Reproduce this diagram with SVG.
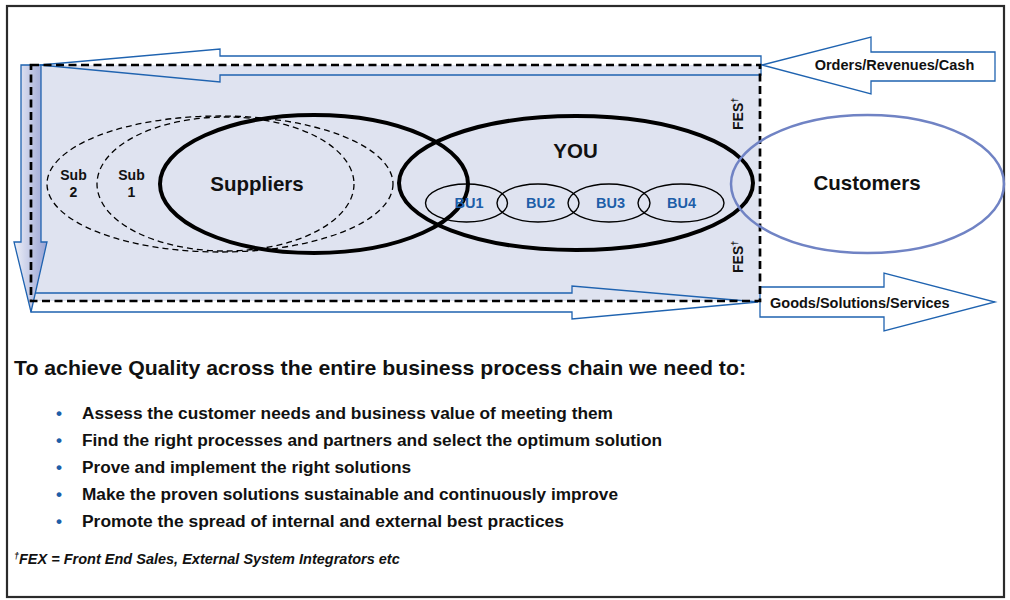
<svg xmlns="http://www.w3.org/2000/svg" width="1010" height="600" viewBox="0 0 1010 600">
<style>
text{font-family:"Liberation Sans",Arial,Helvetica,sans-serif;font-weight:bold;fill:#111}
.arr{fill:none;stroke:#1f63b0;stroke-width:1.3;stroke-linejoin:miter}
.arrw{fill:#fff;stroke:#1f63b0;stroke-width:1.3}
.big{font-size:20.5px;text-anchor:middle}
.sub{font-size:14px;text-anchor:middle}
.bu{font-size:14.5px;text-anchor:middle;fill:#1d5ea8}
.lbl{font-size:14.5px}
.fes{font-size:14px}
.bul{font-size:17.2px}
.dot{fill:#1d5ea8}
.thick{fill:none;stroke:#000;stroke-width:4}
.dash{fill:none;stroke:#000;stroke-width:1.3;stroke-dasharray:6,4}
</style>
<defs>
<linearGradient id="g" x1="0" y1="0" x2="1" y2="0">
<stop offset="0" stop-color="#eef0f8"/>
<stop offset="1" stop-color="#97a2d3"/>
</linearGradient>
</defs>
<rect x="0" y="0" width="1010" height="600" fill="#fff"/>
<rect x="7" y="6" width="997" height="591" fill="none" stroke="#2b2b2b" stroke-width="2.2"/>
<rect id="zone" x="31" y="65" width="729" height="236" fill="#dfe3f0"/>
<g id="connectors">
<polygon class="arr" points="31,293 572,293 572,286 758,302 572,319 572,312 31,312"/>
<polygon points="21,65 41,65 41,242 47,242 31,312 14,242 21,242" fill="url(#g)" stroke="#1f63b0" stroke-width="1.3"/>
<polygon class="arr" points="40,65 220,49 220,56 761,56 761,75 220,75 220,82"/>
<polygon class="arrw" points="762,65 871,37 871,52 995,52 995,81 871,81 871,94"/>
<polygon class="arrw" points="760,287 884,287 884,273 995,302 884,331 884,317 760,317"/>
<text class="lbl" x="894.5" y="70" text-anchor="middle">Orders/Revenues/Cash</text>
<text class="lbl" x="770" y="308">Goods/Solutions/Services</text>
</g>
<rect x="31" y="65" width="729" height="236" fill="none" stroke="#000" stroke-width="2.7" stroke-dasharray="8,4.5"/>
<g id="sub2"><ellipse class="dash" cx="220" cy="184" rx="173" ry="68"/>
<text class="sub" x="73.5" y="180">Sub</text><text class="sub" x="73.5" y="197">2</text></g>
<g id="sub1"><ellipse class="dash" cx="225.5" cy="184" rx="128.5" ry="67"/>
<text class="sub" x="131.5" y="180">Sub</text><text class="sub" x="131.5" y="197">1</text></g>
<g id="suppliers"><ellipse class="thick" cx="314" cy="184" rx="154" ry="69"/>
<text class="big" x="257" y="191">Suppliers</text></g>
<g id="you"><ellipse class="thick" cx="576" cy="183" rx="177" ry="67"/>
<text class="big" x="575.5" y="158">YOU</text></g>
<g id="bu1"><ellipse cx="466.5" cy="203" rx="41" ry="19" fill="none" stroke="#000" stroke-width="1.4"/><text class="bu" x="469" y="208">BU1</text></g>
<g id="bu2"><ellipse cx="538" cy="203" rx="41" ry="19" fill="none" stroke="#000" stroke-width="1.4"/><text class="bu" x="540.5" y="208">BU2</text></g>
<g id="bu3"><ellipse cx="609" cy="203" rx="41" ry="19" fill="none" stroke="#000" stroke-width="1.4"/><text class="bu" x="610.5" y="208">BU3</text></g>
<g id="bu4"><ellipse cx="681" cy="203" rx="43" ry="19" fill="none" stroke="#000" stroke-width="1.4"/><text class="bu" x="681.5" y="208">BU4</text></g>
<g id="customers"><ellipse cx="867.5" cy="184" rx="136.5" ry="69" fill="none" stroke="#7083c4" stroke-width="2.5"/>
<text class="big" x="867" y="190">Customers</text></g>
<g id="fes">
<text class="fes" transform="translate(743,130) rotate(-90)">FES<tspan font-size="9" dy="-5">†</tspan></text>
<text class="fes" transform="translate(743,273) rotate(-90)">FES<tspan font-size="9" dy="-5">†</tspan></text>
</g>
<g id="notes">
<text x="14" y="375" font-size="21px" textLength="732" lengthAdjust="spacingAndGlyphs">To achieve Quality across the entire business process chain we need to:</text>
<text class="bul dot" x="56" y="419">•</text><text class="bul" x="82" y="419" textLength="531" lengthAdjust="spacingAndGlyphs">Assess the customer needs and business value of meeting them</text>
<text class="bul dot" x="56" y="446">•</text><text class="bul" x="82" y="446" textLength="580" lengthAdjust="spacingAndGlyphs">Find the right processes and partners and select the optimum solution</text>
<text class="bul dot" x="56" y="473">•</text><text class="bul" x="82" y="473" textLength="329" lengthAdjust="spacingAndGlyphs">Prove and implement the right solutions</text>
<text class="bul dot" x="56" y="500">•</text><text class="bul" x="82" y="500" textLength="536" lengthAdjust="spacingAndGlyphs">Make the proven solutions sustainable and continuously improve</text>
<text class="bul dot" x="56" y="527">•</text><text class="bul" x="82" y="527" textLength="482" lengthAdjust="spacingAndGlyphs">Promote the spread of internal and external best practices</text>
<text x="14" y="564" font-size="14.5px" font-style="italic"><tspan font-size="9" dy="-5">†</tspan><tspan dy="5">FEX = Front End Sales, External System Integrators etc</tspan></text>
</g>
</svg>
